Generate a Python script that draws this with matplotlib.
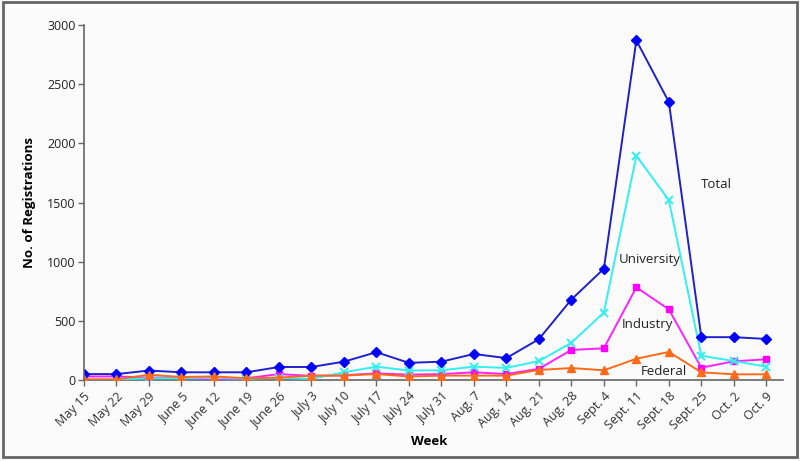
import matplotlib
matplotlib.use("Agg")
import matplotlib.pyplot as plt
from matplotlib.patches import Rectangle

weeks = ["May 15", "May 22", "May 29", "June 5", "June 12", "June 19", "June 26",
         "July 3", "July 10", "July 17", "July 24", "July 31", "Aug. 7", "Aug. 14",
         "Aug. 21", "Aug. 28", "Sept. 4", "Sept. 11", "Sept. 18", "Sept. 25",
         "Oct. 2", "Oct. 9"]
total = [50, 50, 80, 65, 65, 65, 110, 110, 155, 235, 145, 155, 220, 185,
         345, 680, 940, 2870, 2350, 362, 362, 347]
university = [5, 5, 15, 15, 20, 10, 20, 10, 65, 113, 80, 82, 113, 102,
              160, 315, 570, 1895, 1520, 205, 160, 113]
industry = [30, 30, 20, 20, 0, 15, 50, 35, 40, 56, 45, 50, 65, 50,
            95, 254, 268, 783, 597, 104, 158, 175]
federal = [5, 5, 45, 25, 30, 15, 20, 37, 37, 50, 30, 37, 37, 37,
           85, 101, 82, 180, 237, 65, 48, 48]

FONT = "Open Sans"
x = list(range(len(weeks)))

fig = plt.figure(figsize=(8, 4.61), dpi=100, facecolor="#fbfbfb")
ax = fig.add_axes([0.105, 0.1757, 0.874, 0.770], facecolor="#fbfbfb")

ax.plot(x, total, color="#2020cc", lw=1.4, marker="D", ms=5,
        mfc="#0000ff", mec="#0000ff", zorder=5)
ax.plot(x, university, color="#33f0f0", lw=1.4, marker="x", ms=6,
        mew=1.4, zorder=4)
ax.plot(x, industry, color="#ff22ff", lw=1.4, marker="s", ms=4.5,
        mfc="#ff00ff", mec="#ff00ff", zorder=3)
ax.plot(x, federal, color="#ff6a1a", lw=1.4, marker="^", ms=6,
        mfc="#ff6a1a", mec="#ff6a1a", zorder=6)

ax.text(18.97, 1650, "Total", fontsize=9.5, family=FONT, va="center", color="#222")
ax.text(17.4, 1015, "University", fontsize=9.5, family=FONT, ha="center", va="center", color="#222")
ax.text(17.35, 465, "Industry", fontsize=9.5, family=FONT, ha="center", va="center", color="#222")
ax.text(17.85, 70, "Federal", fontsize=9.5, family=FONT, ha="center", va="center", color="#222")

ax.set_xlim(0, 21.52)
ax.set_ylim(0, 3000)
ax.set_yticks([0, 500, 1000, 1500, 2000, 2500, 3000])
ax.set_xticks(x)
ax.set_xticklabels(weeks, rotation=45, ha="right", rotation_mode="anchor",
                   fontsize=9, family=FONT, color="#333")
for lab in ax.get_yticklabels():
    lab.set_family(FONT)
    lab.set_fontsize(9)
    lab.set_color("#222")
ax.tick_params(axis="both", color="#666", length=4, width=1)
ax.tick_params(axis="x", pad=3)
ax.tick_params(axis="y", pad=2)

for side in ["top", "right"]:
    ax.spines[side].set_visible(False)
for side in ["left", "bottom"]:
    ax.spines[side].set_color("#666")
    ax.spines[side].set_linewidth(1.2)
ax.spines["left"].set_zorder(10)

ax.set_ylabel("No. of Registrations", fontsize=9.5, fontweight="bold", family=FONT, labelpad=8)
fig.text(0.537, 0.043, "Week", fontsize=9.5, fontweight="bold", family=FONT, ha="center", va="center")

fig.patches.append(Rectangle((0.004, 0.009), 0.992, 0.987, transform=fig.transFigure,
                             fill=False, edgecolor="#666666", lw=2))

fig.savefig("out.png", dpi=100, facecolor=fig.get_facecolor())
